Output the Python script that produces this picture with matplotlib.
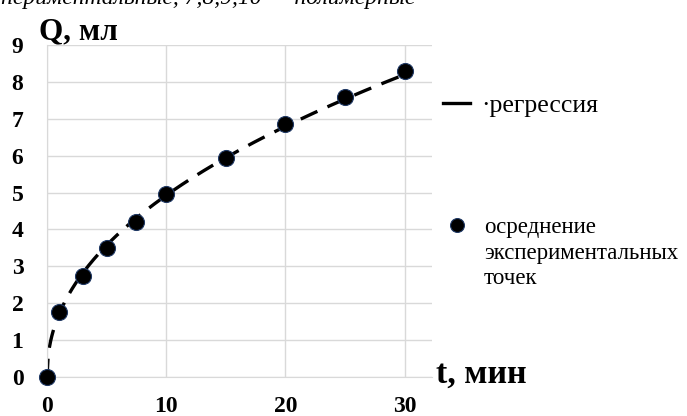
import numpy as np
import matplotlib
matplotlib.use('Agg')
import matplotlib.pyplot as plt
from matplotlib.lines import Line2D

# averaged experimental points
t_exp = [0, 1, 3, 5, 7.5, 10, 15, 20, 25, 30]
q_exp = [0, 1.75, 2.75, 3.5, 4.2, 4.95, 5.95, 6.85, 7.6, 8.3]

x_ticks = [0, 10, 20, 30]
y_ticks = [0, 1, 2, 3, 4, 5, 6, 7, 8, 9]

plt.rcParams['font.family'] = ['Liberation Serif', 'DejaVu Serif']

# power-law regression Q = a * t^b (fit on t > 0)
t_arr = np.array(t_exp)
q_arr = np.array(q_exp)
mask = t_arr > 0
b, log_a = np.polyfit(np.log(t_arr[mask]), np.log(q_arr[mask]), 1)
t_fit = np.linspace(0, 30, 300)
q_fit = np.exp(log_a) * t_fit ** b

fig = plt.figure(figsize=(6.87, 4.16), dpi=100)
ax = fig.add_axes([47/687, 1-377/416, (432-47)/687, (377-45)/416])

grid_c = '#d9d9d9'
ax.plot(t_fit, q_fit, color='black', lw=2.4, dashes=(5.5, 3.3), zorder=2)
ax.plot(t_exp, q_exp, 'o', color='black', ms=11.5, mec='#1f3864', mew=0.8, zorder=3, clip_on=False)

ax.set_xlim(0, 32.3)
ax.set_ylim(0, 9)
ax.set_xticks(x_ticks)
ax.set_yticks(y_ticks)
ax.grid(True, color=grid_c, lw=1)
ax.set_axisbelow(True)
for s in ['top', 'right']:
    ax.spines[s].set_visible(False)
ax.spines['left'].set_color(grid_c)
ax.spines['bottom'].set_color(grid_c)
ax.tick_params(length=0, labelsize=17)
ax.tick_params(axis='y', pad=17)
ax.tick_params(axis='x', pad=14)
for lab in ax.get_xticklabels() + ax.get_yticklabels():
    lab.set_fontweight('bold')

# axis titles
fig.text(39/687, 1-39/416, 'Q, мл', fontsize=22.5, fontweight='bold', va='baseline')
fig.text(436/687, 1-383/416, 't, мин', fontsize=24.5, fontweight='bold', va='baseline')

# cut-off caption at the top
fig.text(415/687, 1-4/416, 'экспериментальные, 7,8,9,10 — полимерные',
         fontsize=17, style='italic', ha='right', va='baseline')

# legends
h1 = Line2D([], [], color='black', lw=2.4)
fig.legend([h1], ['·регрессия'], loc='center left',
           bbox_to_anchor=(430/687, 1-106/416), frameon=False,
           fontsize=18.5, handlelength=1.05, handletextpad=0.45, borderpad=0)
h2 = Line2D([], [], marker='o', ls='', color='black', ms=10, mec='#1f3864', mew=0.8)
blank = Line2D([], [], ls='', marker='')
fig.legend([h2, blank, blank], ['осреднение', 'экспериментальных', 'точек'],
           loc='upper left', bbox_to_anchor=(436/687, 1-206/416), frameon=False,
           fontsize=16.5, handlelength=0.8, handletextpad=0.8, borderpad=0,
           labelspacing=0.18)

fig.savefig('out.png', dpi=100)
